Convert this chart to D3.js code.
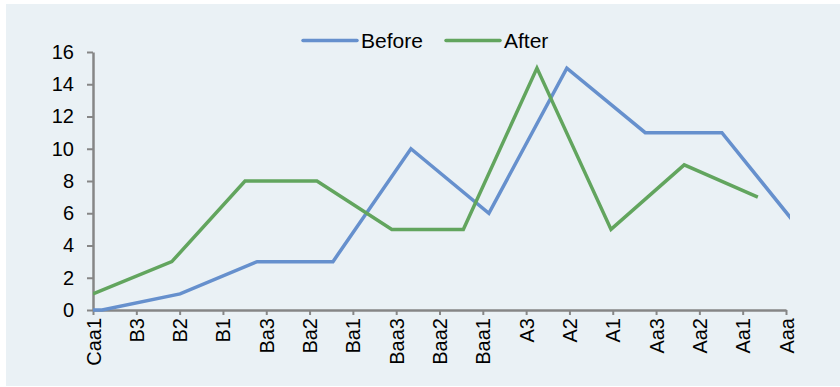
<!DOCTYPE html>
<html>
<head>
<meta charset="utf-8">
<script src="https://cdn.jsdelivr.net/npm/d3@7"></script>
<style>
    body { margin: 0; background: #ffffff; }
    svg { display: block; font-family: "Liberation Sans", Arial, sans-serif; }
</style>
</head>
<body>
<script>
"use strict";

// rating categories on the x axis
const categories = ["Caa1", "B3", "B2", "B1", "Ba3", "Ba2", "Ba1", "Baa3", "Baa2", "Baa1",
    "A3", "A2", "A1", "Aa3", "Aa2", "Aa1", "Aaa"];
const yTicks = [0, 2, 4, 6, 8, 10, 12, 14, 16];

// points sit between the category ticks, so keep their position (in category units)
const beforePos = [0, 0.21, 2.01, 3.79, 5.54, 7.34, 9.14, 10.94, 12.75, 14.52, 16.32];
const beforeValues = [0, 0, 1, 3, 3, 10, 6, 15, 11, 11, 5];
const afterPos = [0, 1.82, 3.51, 5.17, 6.9, 8.55, 10.25, 11.96, 13.65, 15.35];
const afterValues = [1, 3, 8, 8, 5, 5, 15, 5, 9, 7];

const seriesNames = ["Before", "After"];

(function(){
    const measurements = {
        width: 840,
        height: 387,
        left: 93,
        right: 786,
        top: 52,
        bottom: 310
    }
    const colors = { "Before": "#6690CD", "After": "#62A55E" };
    const axisColor = "#868686";

    let svg = d3.select("body").append("svg")
        .attr("width", measurements.width)
        .attr("height", measurements.height);

    // chart background
    svg.append("rect")
        .attr("x", 6)
        .attr("y", 4)
        .attr("width", measurements.width - 6)
        .attr("height", measurements.height - 5)
        .attr("fill", "#EAF1F5");

    let scaleX = d3.scaleLinear()
        .domain([0, categories.length - 1])
        .range([measurements.left, measurements.right]);
    let scaleCat = d3.scalePoint()
        .domain(categories)
        .range([measurements.left, measurements.right]);
    let scaleY = d3.scaleLinear()
        .domain([0, 16])
        .range([measurements.bottom, measurements.top]);

    svg.append("clipPath")
        .attr("id", "plotClip")
        .append("rect")
        .attr("x", measurements.left)
        .attr("y", 30)
        .attr("width", 790 - measurements.left)
        .attr("height", measurements.bottom + 3 - 30);

    drawAxes();
    plotLines();
    drawLegend();

    function drawAxes() {
        let yAxis = d3.axisLeft(scaleY)
            .tickValues(yTicks)
            .tickSize(6)
            .tickSizeOuter(0)
            .tickPadding(13);
        let gy = svg.append("g")
            .attr("transform", "translate(" + measurements.left + ",0)")
            .call(yAxis);
        gy.select(".domain").attr("stroke", axisColor).attr("stroke-width", 2.5);
        gy.selectAll(".tick line").attr("stroke", axisColor).attr("stroke-width", 2);
        gy.selectAll(".tick text")
            .attr("fill", "#000")
            .attr("font-size", 20)
            .attr("font-family", "Liberation Sans, Arial, sans-serif");

        let xAxis = d3.axisBottom(scaleCat)
            .tickSize(5)
            .tickSizeOuter(0);
        let gx = svg.append("g")
            .attr("transform", "translate(0," + measurements.bottom + ")")
            .call(xAxis);
        gx.select(".domain").attr("stroke", axisColor).attr("stroke-width", 2.5);
        gx.selectAll(".tick line").attr("stroke", axisColor).attr("stroke-width", 2);
        gx.selectAll(".tick text")
            .attr("fill", "#000")
            .attr("font-size", 20)
            .attr("font-family", "Liberation Sans, Arial, sans-serif")
            .attr("transform", "rotate(-90)")
            .attr("text-anchor", "end")
            .attr("x", -8)
            .attr("y", 0)
            .attr("dy", "0.35em");
    }

    function plotLines() {
        const series = [
            { name: "Before", pos: beforePos, values: beforeValues },
            { name: "After", pos: afterPos, values: afterValues }
        ];
        let line = d3.line()
            .x(d => scaleX(d[0]))
            .y(d => scaleY(d[1]));

        let g = svg.append("g").attr("clip-path", "url(#plotClip)");
        series.forEach(function(s) {
            g.append("path")
                .datum(d3.zip(s.pos, s.values))
                .attr("d", line)
                .attr("fill", "none")
                .attr("stroke", colors[s.name])
                .attr("stroke-width", 3.5)
                .attr("stroke-linejoin", "miter")
                .attr("stroke-linecap", "butt");
        });
    }

    function drawLegend() {
        const legendX = [303, 446];
        for (let i = 0; i < seriesNames.length; i++) {
            svg.append("line")
                .attr("x1", legendX[i])
                .attr("x2", legendX[i] + 54)
                .attr("y1", 40.5)
                .attr("y2", 40.5)
                .attr("stroke", colors[seriesNames[i]])
                .attr("stroke-width", 3.5)
                .attr("stroke-linecap", "round");

            svg.append("text")
                .attr("x", legendX[i] + 58)
                .attr("y", 41)
                .attr("dy", "0.35em")
                .attr("font-size", 21)
                .attr("fill", "#000")
                .text(seriesNames[i]);
        }
    }
})()
</script>
</body>
</html>
